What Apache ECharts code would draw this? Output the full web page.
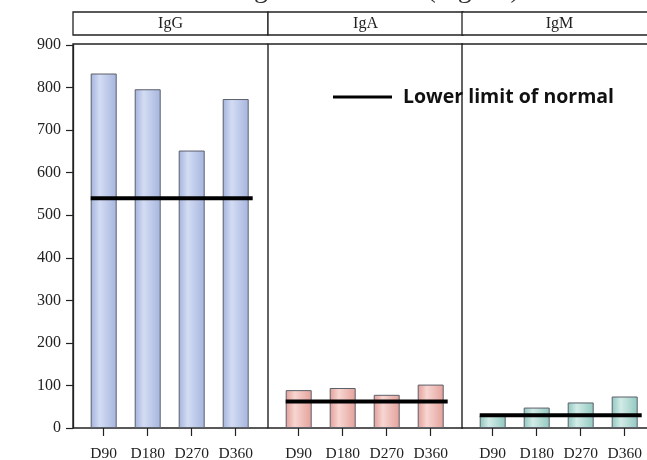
<!DOCTYPE html>
<html>
<head>
<meta charset="utf-8">
<script src="https://cdn.jsdelivr.net/npm/echarts@6/dist/echarts.min.js"></script>
<style>html,body{margin:0;padding:0;background:#fff;}#c{width:647px;height:460px;}</style>
</head>
<body>
<div id="c"></div>
<script>
const categories = ['D90', 'D180', 'D270', 'D360'];
const panelNames = ['IgG', 'IgA', 'IgM'];
const igG = [833, 796, 652, 773];
const igA = [89, 94, 78, 102];
const igM = [30, 48, 60, 74];
const lowerLimit = [540, 62, 30];
const yMin = 0, yMax = 900, yStep = 100;
const titleText = 'Immunoglobulin levels (mg/dL)';
const legendText = 'Lower limit of normal';

const seriesValues = [igG, igA, igM];
const palettes = [
  ['#a3b3dd', '#d3dcf3', '#a6b5de'],
  ['#e39d96', '#f7d6d2', '#e4a19a'],
  ['#8fc7be', '#d2ebe7', '#92c9c0']
];
const serif = '"Liberation Serif", "DejaVu Serif", serif';
const panelLeft = [73, 268, 462];
const panelWidth = 195;
const gridTop = 45, gridBottom = 32;
const barW = 26;

const grids = [], xAxes = [], yAxes = [], series = [], graphics = [];
panelLeft.forEach((L, i) => {
  grids.push({left: L + 8.7, width: 176, top: gridTop, bottom: gridBottom, outerBoundsMode: 'none', containLabel: false});
});
panelLeft.forEach((L, i) => {
  xAxes.push({type: 'category', gridIndex: i, data: categories, boundaryGap: true,
    axisLine: {show: false},
    axisTick: {show: true, alignWithLabel: true, length: 8, lineStyle: {color: '#222', width: 1.2}},
    axisLabel: {show: true, interval: 0, margin: 18, fontFamily: serif, fontSize: 15.5, color: '#222'}});
  yAxes.push({type: 'value', gridIndex: i, min: yMin, max: yMax, interval: yStep,
    show: i === 0, offset: 8.7, position: 'left',
    splitLine: {show: false},
    axisLine: {show: true, lineStyle: {color: '#222', width: 1.3}},
    axisTick: {show: true, length: 7, lineStyle: {color: '#222', width: 1.2}},
    axisLabel: {margin: 12, fontFamily: serif, fontSize: 16, color: '#222'}});

  const p = palettes[i];
  series.push({type: 'bar', name: panelNames[i], xAxisIndex: i, yAxisIndex: i,
    data: seriesValues[i], barWidth: barW,
    itemStyle: {
      color: {type: 'linear', x: 0, y: 0, x2: 1, y2: 0,
        colorStops: [{offset: 0, color: p[0]}, {offset: 0.35, color: p[1]}, {offset: 1, color: p[2]}]},
      borderColor: '#5b5f6a', borderWidth: 1
    }, z: 2});
  series.push({type: 'custom', name: legendText, xAxisIndex: i, yAxisIndex: i,
    data: [[categories[0], lowerLimit[i]]], clip: false, z: 5,
    itemStyle: {color: '#000'},
    renderItem: function (params, api) {
      const v = api.value(1);
      const a = api.coord([0, v]);
      const b = api.coord([categories.length - 1, v]);
      return {type: 'line', shape: {x1: a[0] - barW / 2, y1: a[1], x2: b[0] + barW / 2 + 4, y2: a[1]},
        style: {stroke: '#000', lineWidth: 4}};
    }});

  const bottomY = 460 - gridBottom;
  graphics.push({type: 'polyline', shape: {points: [[L + panelWidth, gridTop - 1], [L, gridTop - 1], [L, bottomY], [L + panelWidth, bottomY]]},
    style: {fill: null, stroke: '#222', lineWidth: 1.4}, z: 1});
  graphics.push({type: 'rect', shape: {x: L, y: 12, width: panelWidth, height: 23},
    style: {fill: '#fff', stroke: '#222', lineWidth: 1.3}, z: 1});
  graphics.push({type: 'text', x: L + panelWidth / 2, y: 23.5,
    style: {text: panelNames[i], textAlign: 'center', textVerticalAlign: 'middle', font: '16px ' + serif, fill: '#222'}, z: 2});
});
graphics.push({type: 'text', x: 159, y: -24,
  style: {text: titleText, textAlign: 'left', textVerticalAlign: 'top', font: '28px ' + serif, fill: '#333'}, z: 2});

const chart = echarts.init(document.getElementById('c'), null, {renderer: 'canvas'});
chart.setOption({
  animation: false,
  backgroundColor: '#fff',
  grid: grids,
  xAxis: xAxes,
  yAxis: yAxes,
  legend: {data: [{name: legendText, icon: 'rect'}], left: 328, top: 82, itemWidth: 59, itemHeight: 3,
    selectedMode: false,
    textStyle: {fontFamily: '"Open Sans", "DejaVu Sans", sans-serif', fontWeight: 'bold', fontSize: 19.5, color: '#111', padding: [0, 0, 0, 6]}},
  graphic: graphics,
  series: series
});
</script>
</body>
</html>
